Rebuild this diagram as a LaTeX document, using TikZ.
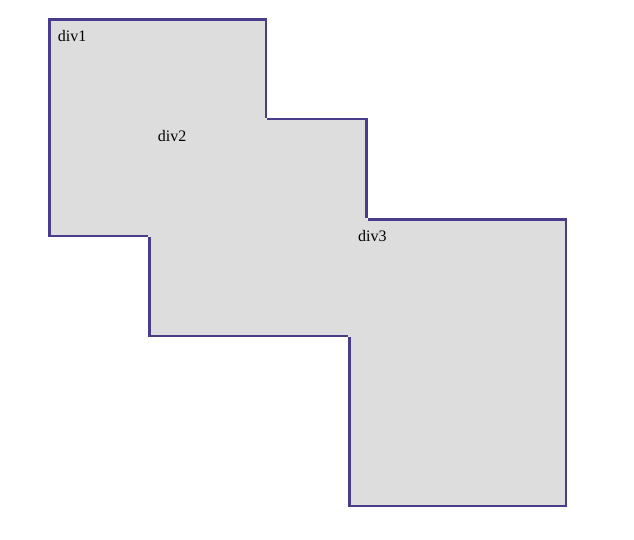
\documentclass[tikz,border=0pt]{standalone}
\usepackage{fontspec}
\setmainfont{Liberation Serif}
\definecolor{bordercol}{RGB}{72,61,139}
\definecolor{fillcol}{RGB}{221,221,221}
\tikzset{
  edge/.style={draw=bordercol, line width=2.3pt, line cap=butt, line join=miter},
  lbl/.style={anchor=base west, inner sep=0pt, font=\fontsize{16pt}{19pt}\selectfont, text=black}
}
\begin{document}
\begin{tikzpicture}[x=1pt,y=-1pt]
\useasboundingbox (0,0) rectangle (634,539);
% fill of the union
\fill[fillcol] (49.5,19.5) -- (266.3,19.5) -- (266.3,119.3) -- (366.5,119.3) -- (366.5,219.5)
  -- (566.3,219.5) -- (566.3,506) -- (349.5,506) -- (349.5,336) -- (149.5,336)
  -- (149.5,236) -- (49.5,236) -- cycle;
% border pieces (notches at concave corners)
\draw[edge] (148.35,236) -- (49.5,236) -- (49.5,19.5) -- (266.3,19.5) -- (266.3,118.15);
\draw[edge] (267.45,119.3) -- (366.5,119.3) -- (366.5,218.35);
\draw[edge] (367.65,219.5) -- (566.3,219.5) -- (566.3,506) -- (349.5,506) -- (349.5,337.15);
\draw[edge] (348.35,336) -- (149.5,336) -- (149.5,237.15);
% labels
\node[lbl] (d1) at (57.7,41.6) {div1};
\node[lbl] (d2) at (157.7,141.6) {div2};
\node[lbl] (d3) at (357.9,241.6) {div3};
\end{tikzpicture}
\end{document}
